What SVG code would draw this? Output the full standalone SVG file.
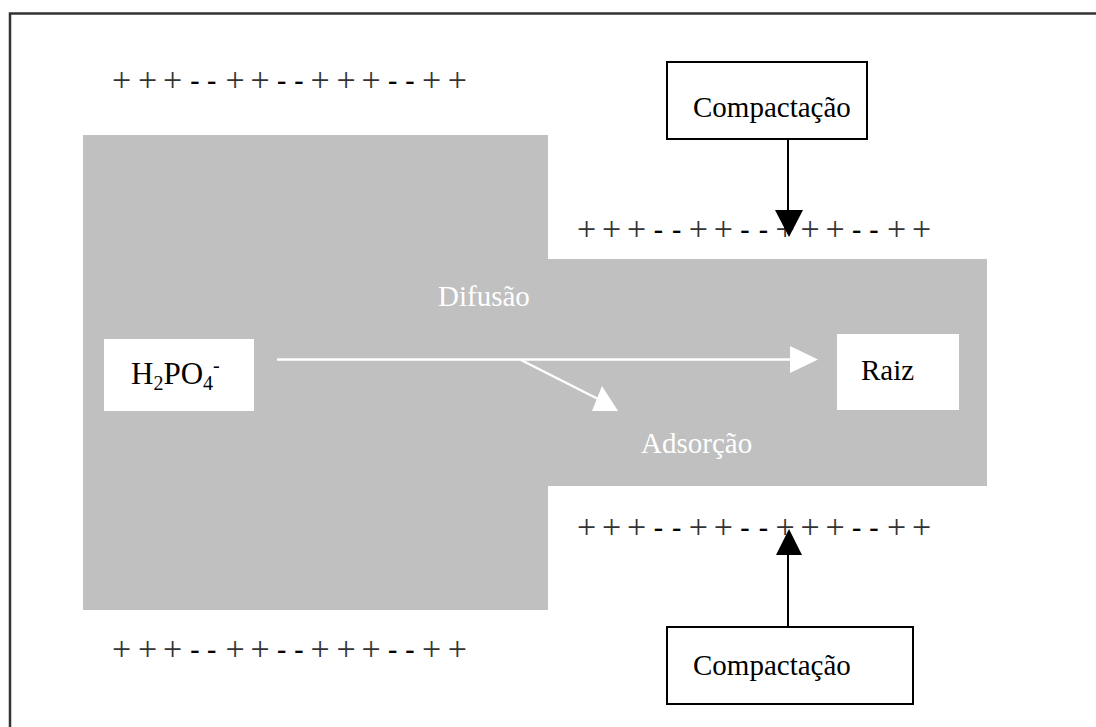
<svg xmlns="http://www.w3.org/2000/svg" width="1096" height="727" viewBox="0 0 1096 727">
<style>
text{font-family:"Liberation Serif","Times New Roman",serif;}
.t{font-size:29px;fill:#000;}
.w{font-size:29px;fill:#fff;}
.pm{font-size:34px;fill:#333;text-anchor:middle;}
.d{font-weight:bold;font-size:28px;fill:#000;}
.box{fill:#fff;stroke:#000;stroke-width:2;}
.wbox{fill:#fff;stroke:none;}
.blk{stroke:#000;stroke-width:2;fill:none;}
.wl{stroke:#fff;stroke-width:2.5;fill:none;}
</style>
<rect width="1096" height="727" fill="#fff"/>
<path d="M10,727 V13.5 H1096" fill="none" stroke="#333" stroke-width="2.5"/>
<g id="soil">
<path d="M83,135 H548 V259 H987 V486 H548 V610 H83 Z" fill="#c0c0c0"/>
</g>
<g id="charges">
<text class="pm" y="91"><tspan x="121.7">+</tspan><tspan x="147.7">+</tspan><tspan x="172.7">+</tspan><tspan x="195" y="89" class="d">-</tspan><tspan x="211.7" class="d">-</tspan><tspan x="235" y="91">+</tspan><tspan x="260">+</tspan><tspan x="281.7" y="89" class="d">-</tspan><tspan x="299" class="d">-</tspan><tspan x="320" y="91">+</tspan><tspan x="346">+</tspan><tspan x="371">+</tspan><tspan x="392.7" y="89" class="d">-</tspan><tspan x="410" class="d">-</tspan><tspan x="431.7" y="91">+</tspan><tspan x="457.3">+</tspan></text>
<text class="pm" y="660"><tspan x="121.7">+</tspan><tspan x="147.7">+</tspan><tspan x="172.7">+</tspan><tspan x="195" y="658" class="d">-</tspan><tspan x="211.7" class="d">-</tspan><tspan x="235" y="660">+</tspan><tspan x="260">+</tspan><tspan x="281.7" y="658" class="d">-</tspan><tspan x="299" class="d">-</tspan><tspan x="320" y="660">+</tspan><tspan x="346">+</tspan><tspan x="371">+</tspan><tspan x="392.7" y="658" class="d">-</tspan><tspan x="410" class="d">-</tspan><tspan x="431.7" y="660">+</tspan><tspan x="457.3">+</tspan></text>
<text class="pm" y="240"><tspan x="586.7">+</tspan><tspan x="611.7">+</tspan><tspan x="636.7">+</tspan><tspan x="658.3" y="238" class="d">-</tspan><tspan x="676.7" class="d">-</tspan><tspan x="698.3" y="240">+</tspan><tspan x="723.3">+</tspan><tspan x="745" y="238" class="d">-</tspan><tspan x="763.3" class="d">-</tspan><tspan x="785" y="240">+</tspan><tspan x="810">+</tspan><tspan x="835">+</tspan><tspan x="856.7" y="238" class="d">-</tspan><tspan x="874" class="d">-</tspan><tspan x="896.7" y="240">+</tspan><tspan x="921.7">+</tspan></text>
<text class="pm" y="538"><tspan x="586.7">+</tspan><tspan x="611.7">+</tspan><tspan x="636.7">+</tspan><tspan x="658.3" y="536" class="d">-</tspan><tspan x="676.7" class="d">-</tspan><tspan x="698.3" y="538">+</tspan><tspan x="723.3">+</tspan><tspan x="745" y="536" class="d">-</tspan><tspan x="763.3" class="d">-</tspan><tspan x="785" y="538">+</tspan><tspan x="810">+</tspan><tspan x="835">+</tspan><tspan x="856.7" y="536" class="d">-</tspan><tspan x="874" class="d">-</tspan><tspan x="896.7" y="538">+</tspan><tspan x="921.7">+</tspan></text>
</g>
<g id="compactacao-top">
<rect class="box" x="667" y="62" width="200" height="77"/>
<text class="t" x="693" y="117">Compactação</text>
</g>
<g id="compactacao-bottom">
<rect class="box" x="667" y="627" width="246" height="77"/>
<text class="t" x="693" y="675">Compactação</text>
</g>
<g id="h2po4">
<rect class="wbox" x="104" y="339" width="150" height="72"/>
<text x="131" y="384" font-size="31" fill="#000">H<tspan font-size="20" dy="6">2</tspan><tspan dy="-6">PO</tspan><tspan font-size="20" dy="6">4</tspan><tspan font-size="20" dy="-18">-</tspan></text>
</g>
<g id="raiz">
<rect class="wbox" x="837" y="334" width="122" height="76"/>
<text class="t" x="861" y="380">Raiz</text>
</g>
<g id="labels">
<text class="w" x="438" y="306">Difusão</text>
<text class="w" x="641" y="453">Adsorção</text>
</g>
<g id="connectors">
<line class="blk" x1="788" y1="139" x2="788" y2="212"/>
<polygon points="775,210 803,210 789,237" fill="#000"/>
<line class="blk" x1="788" y1="627" x2="788" y2="553"/>
<polygon points="776,555 802,555 789,529" fill="#000"/>
<line class="wl" x1="277" y1="359.5" x2="792" y2="359.5"/>
<polygon points="790,346 818,359.5 790,373" fill="#fff"/>
<line class="wl" x1="521" y1="360" x2="600" y2="400"/>
<polygon points="592,411 618,411 602,386" fill="#fff"/>
</g>
</svg>
